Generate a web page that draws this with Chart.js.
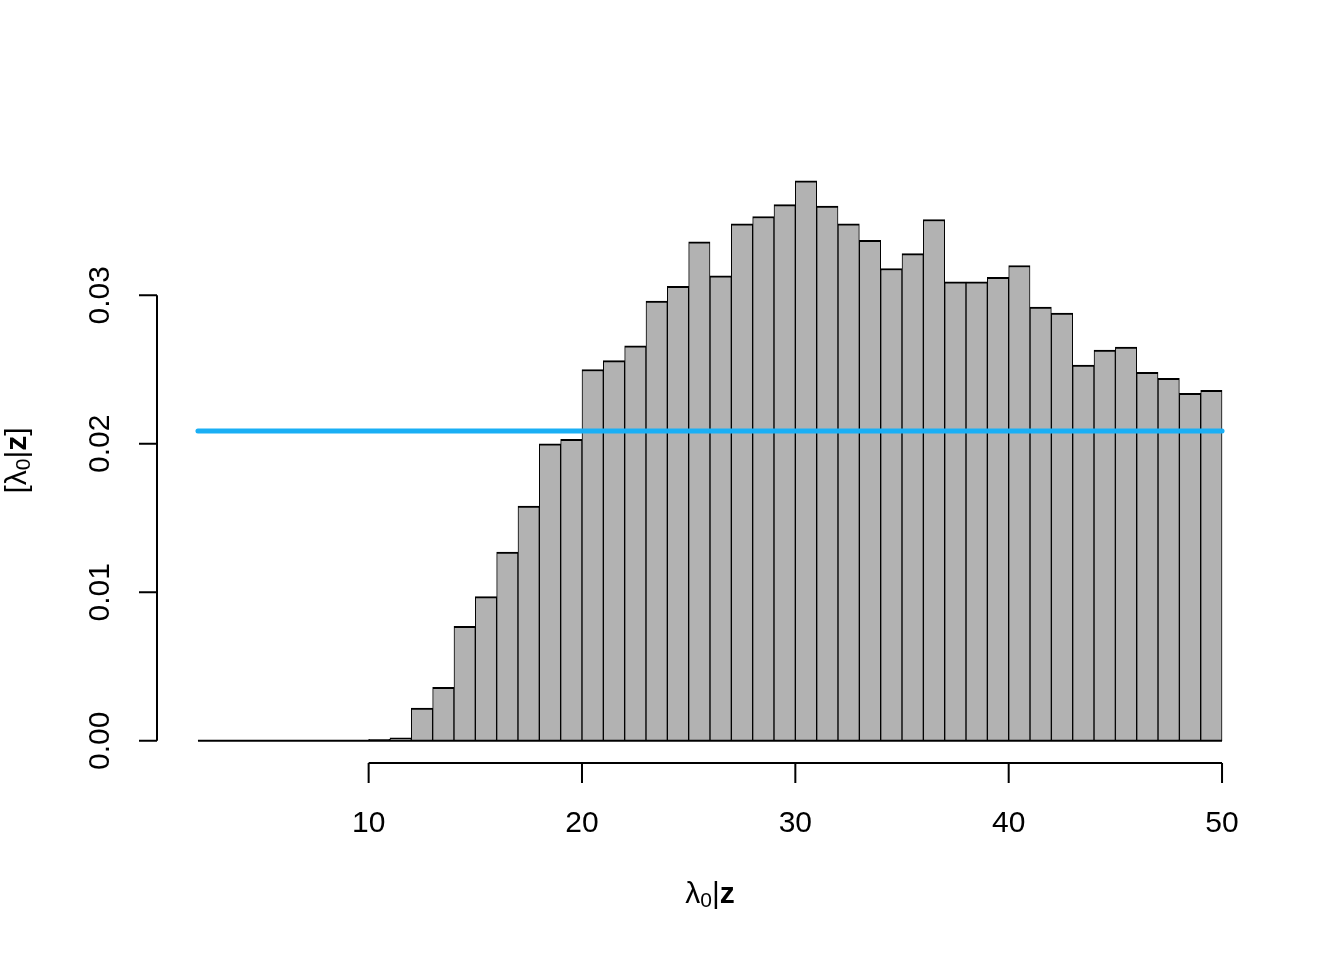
<!DOCTYPE html>
<html>
<head>
<meta charset="utf-8">
<script src="https://cdn.jsdelivr.net/npm/chart.js@4.4.1/dist/chart.umd.min.js"></script>
<style>
    html, body { margin: 0; padding: 0; background: #ffffff; }
    #wrap { width: 1344px; height: 960px; position: relative; }
</style>
</head>
<body>
<div id="wrap"><canvas id="histChart"></canvas></div>
<script>
// histogram bins (width 1, from 2 to 50) and density per bin
const BIN_MIDS = [
    2.5, 3.5, 4.5, 5.5, 6.5, 7.5, 8.5, 9.5, 10.5, 11.5,
    12.5, 13.5, 14.5, 15.5, 16.5, 17.5, 18.5, 19.5, 20.5, 21.5,
    22.5, 23.5, 24.5, 25.5, 26.5, 27.5, 28.5, 29.5, 30.5, 31.5,
    32.5, 33.5, 34.5, 35.5, 36.5, 37.5, 38.5, 39.5, 40.5, 41.5,
    42.5, 43.5, 44.5, 45.5, 46.5, 47.5, 48.5, 49.5,
];
const DENSITY = [
    0, 0, 0, 0, 0, 0, 0, 0, 0.0001, 0.0002,
    0.0022, 0.0036, 0.0077, 0.0097, 0.0127, 0.0158, 0.0200, 0.0203, 0.0250, 0.0256,
    0.0266, 0.0296, 0.0306, 0.0336, 0.0313, 0.0348, 0.0353, 0.0361, 0.0377, 0.0360,
    0.0348, 0.0337, 0.0318, 0.0328, 0.0351, 0.0309, 0.0309, 0.0312, 0.0320, 0.0292,
    0.0288, 0.0253, 0.0263, 0.0265, 0.0248, 0.0244, 0.0234, 0.0236,
];
const BIN_RANGE = [2, 50];

// flat prior density drawn over the histogram
const PRIOR_X = [2, 50];
const PRIOR_Y = [0.02085, 0.02085];

const X_TICKS = [10, 20, 30, 40, 50];
const Y_TICKS = [0, 0.01, 0.02, 0.03];
const Y_TICK_LABELS = ['0.00', '0.01', '0.02', '0.03'];

const FONT = '"Liberation Sans", Arial, Helvetica, sans-serif';
const FONT_SIZE = 30;

// pieces of the λ0|z label: regular lambda, subscript 0, bar, bold z
function labelParts() {
    return [
        { t: 'λ', font: `${FONT_SIZE}px ${FONT}`, dy: 0 },
        { t: '0', font: `${Math.round(FONT_SIZE * 0.7)}px ${FONT}`, dy: 6 },
        { t: '|', font: `${FONT_SIZE}px ${FONT}`, dy: 0 },
        { t: 'z', font: `bold ${FONT_SIZE}px ${FONT}`, dy: 0 },
    ];
}

function drawParts(ctx, parts, cx, cy) {
    let total = 0;
    parts.forEach(p => { ctx.font = p.font; p.w = ctx.measureText(p.t).width; total += p.w; });
    let x = cx - total / 2;
    ctx.textAlign = 'left';
    ctx.textBaseline = 'middle';
    parts.forEach(p => {
        ctx.font = p.font;
        ctx.fillText(p.t, x, cy + p.dy);
        x += p.w;
    });
}

const rAxes = {
    id: 'rAxes',
    afterDraw(chart) {
        const { ctx, chartArea, scales: { x, y } } = chart;
        ctx.save();
        ctx.strokeStyle = '#000000';
        ctx.fillStyle = '#000000';
        ctx.lineWidth = 2;

        // bottom edge of empty bins
        ctx.beginPath();
        ctx.moveTo(x.getPixelForValue(BIN_RANGE[0]), y.getPixelForValue(0));
        ctx.lineTo(x.getPixelForValue(BIN_RANGE[1]), y.getPixelForValue(0));
        ctx.stroke();

        // y axis
        const ax = chartArea.left;
        ctx.beginPath();
        ctx.moveTo(ax, y.getPixelForValue(Y_TICKS[0]));
        ctx.lineTo(ax, y.getPixelForValue(Y_TICKS[Y_TICKS.length - 1]));
        Y_TICKS.forEach(v => {
            const py = y.getPixelForValue(v);
            ctx.moveTo(ax, py);
            ctx.lineTo(ax - 18, py);
        });
        ctx.stroke();

        ctx.font = `${FONT_SIZE}px ${FONT}`;
        Y_TICKS.forEach((v, i) => {
            const py = y.getPixelForValue(v);
            ctx.save();
            ctx.translate(101, py);
            ctx.rotate(-Math.PI / 2);
            ctx.textAlign = 'center';
            ctx.textBaseline = 'middle';
            ctx.fillText(Y_TICK_LABELS[i], 0, 0);
            ctx.restore();
        });

        // x axis
        const ay = chartArea.bottom;
        ctx.beginPath();
        ctx.moveTo(x.getPixelForValue(X_TICKS[0]), ay);
        ctx.lineTo(x.getPixelForValue(X_TICKS[X_TICKS.length - 1]), ay);
        X_TICKS.forEach(v => {
            const px = x.getPixelForValue(v);
            ctx.moveTo(px, ay);
            ctx.lineTo(px, ay + 20);
        });
        ctx.stroke();

        ctx.font = `${FONT_SIZE}px ${FONT}`;
        ctx.textAlign = 'center';
        ctx.textBaseline = 'middle';
        X_TICKS.forEach(v => {
            ctx.fillText(String(v), x.getPixelForValue(v), 824);
        });

        // axis titles
        const midX = (chartArea.left + chartArea.right) / 2;
        const midY = (chartArea.top + chartArea.bottom) / 2;
        drawParts(ctx, labelParts(), midX, 895);

        ctx.save();
        ctx.translate(18, midY);
        ctx.rotate(-Math.PI / 2);
        const yParts = [{ t: '[', font: `${FONT_SIZE}px ${FONT}`, dy: 0 }]
            .concat(labelParts())
            .concat([{ t: ']', font: `${FONT_SIZE}px ${FONT}`, dy: 0 }]);
        drawParts(ctx, yParts, 0, 0);
        ctx.restore();

        ctx.restore();
    },
};

new Chart(document.getElementById('histChart'), {
    data: {
        datasets: [
            {
                type: 'line',
                data: PRIOR_X.map((v, i) => ({ x: v, y: PRIOR_Y[i] })),
                borderColor: '#1aaff5',
                borderWidth: 5,
                borderCapStyle: 'round',
                pointRadius: 0,
                order: 0,
            },
            {
                type: 'bar',
                data: BIN_MIDS.map((v, i) => ({ x: v, y: DENSITY[i] })),
                backgroundColor: '#b2b2b2',
                borderColor: '#000000',
                borderWidth: { top: 2, left: 1, right: 1, bottom: 1 },
                borderSkipped: false,
                barPercentage: 1,
                categoryPercentage: 1,
                grouped: false,
                order: 1,
            },
        ],
    },
    options: {
        responsive: true,
        maintainAspectRatio: false,
        animation: false,
        layout: { padding: { left: 157, right: 81, top: 158, bottom: 197 } },
        plugins: {
            legend: { display: false },
            tooltip: { enabled: false },
        },
        scales: {
            x: { type: 'linear', min: 0.08, max: 51.92, offset: false, display: false },
            y: { type: 'linear', min: -0.0015, max: 0.03924, display: false },
        },
    },
    plugins: [rAxes],
});
</script>
</body>
</html>
